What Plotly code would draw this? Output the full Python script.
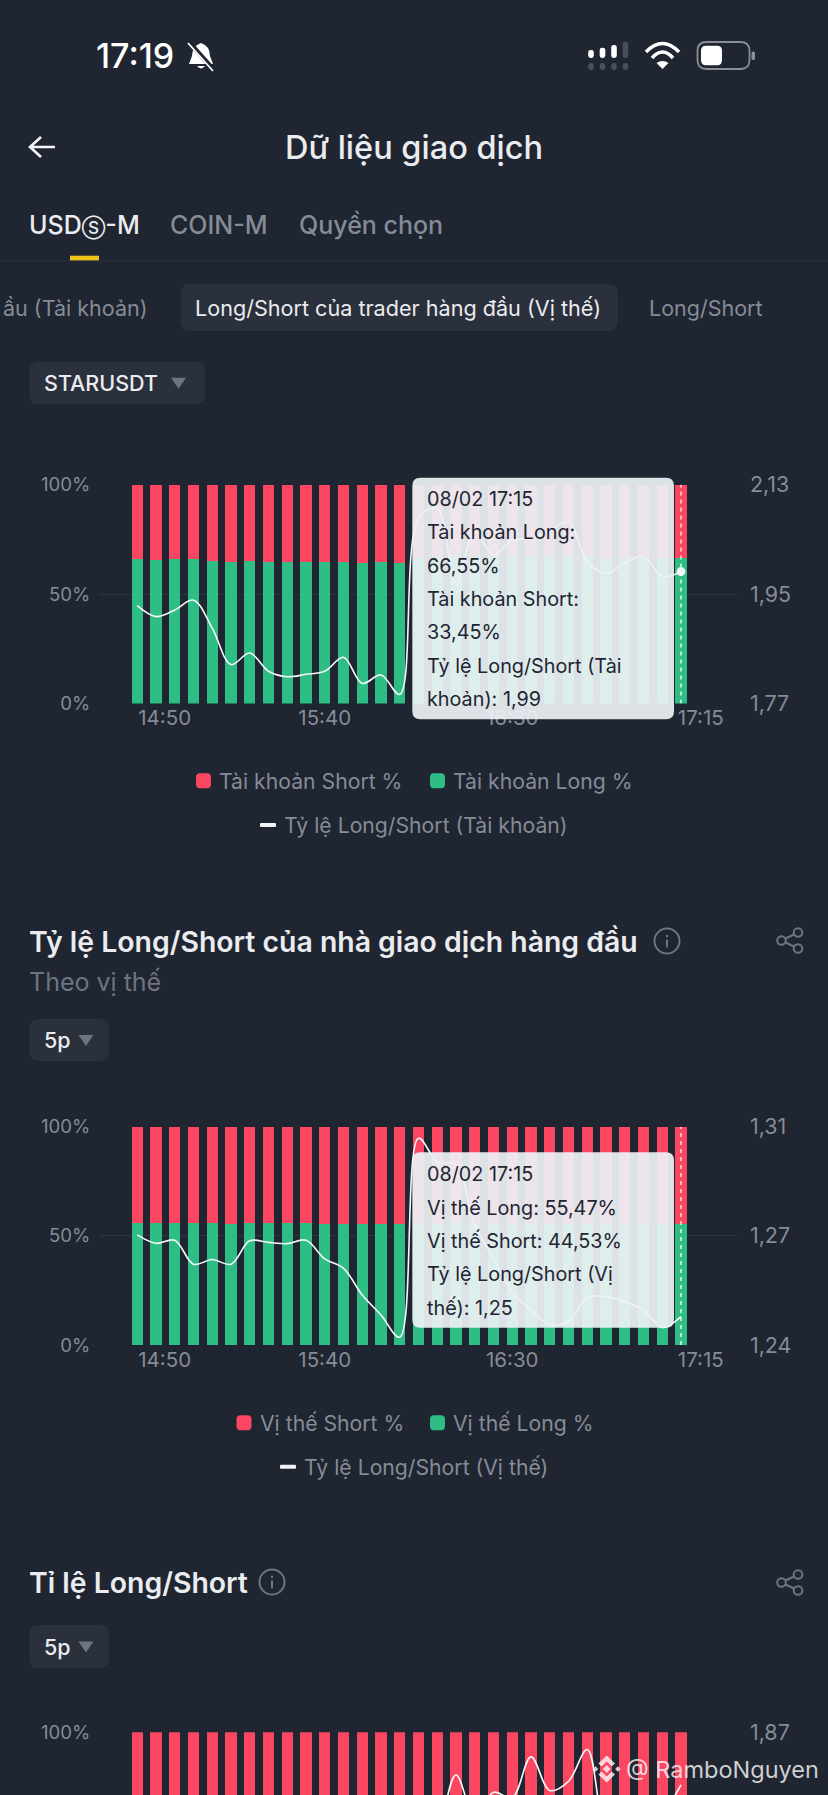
import plotly.graph_objects as go

W = 828
H = 1795

BG = "#1F2531"
CHIP = "#2A303C"
GRID = "#2E3440"
RED = "#FA4660"
GREEN = "#2EBD85"
MUTED = "#858C97"
DIM = "#6E7480"
LIGHT = "#EAECEF"
FONT = "Inter"

TIMES = ["14:50", "14:55", "15:00", "15:05", "15:10", "15:15", "15:20", "15:25", "15:30", "15:35",
         "15:40", "15:45", "15:50", "15:55", "16:00", "16:05", "16:10", "16:15", "16:20", "16:25",
         "16:30", "16:35", "16:40", "16:45", "16:50", "16:55", "17:00", "17:05", "17:10", "17:15"]

# tick labels sit off their bars at both ends of the axis
X_TICK_POS = [1.46, 10, 20, 30.06]
X_TICK_TEXT = ["14:50", "15:40", "16:30", "17:15"]
LEFT_TICKS = [0, 50, 100]
LEFT_TEXT = ["0%", "50%", "100%"]

long_acc = [65.9, 65.6, 65.9, 66.1, 65.3, 64.7, 65.1, 64.5, 64.5, 64.5,
            64.7, 64.8, 64.4, 64.5, 64.4, 66.6, 66.9, 67.2, 67.0, 67.0,
            66.9, 67.1, 66.8, 67.2, 67.0, 66.5, 66.4, 66.5, 66.7, 66.55]
ratio_acc = [1.931, 1.913, 1.924, 1.940, 1.894, 1.834, 1.853, 1.823, 1.814, 1.818,
             1.823, 1.846, 1.803, 1.817, 1.785, 2.075, 2.091, 1.965, 2.053, 2.014,
             2.039, 2.042, 2.055, 2.069, 2.003, 1.984, 2.001, 2.012, 1.979, 1.987]
right_acc = [1.77, 1.95, 2.13]
right_acc_text = ["1,77", "1,95", "2,13"]

long_pos = [56.0, 55.9, 55.9, 55.7, 55.7, 55.6, 55.7, 55.7, 55.7, 55.7,
            55.6, 55.6, 55.6, 55.3, 55.3, 55.6, 55.6, 55.7, 55.6, 55.5,
            55.4, 55.5, 55.5, 55.6, 55.6, 55.6, 55.5, 55.4, 55.4, 55.47]
ratio_pos = [1.2753, 1.2726, 1.2736, 1.2659, 1.2674, 1.2659, 1.2734, 1.2729, 1.2725, 1.2736,
             1.2676, 1.2646, 1.2560, 1.2496, 1.2425, 1.3063, 1.2988, 1.2979, 1.2785, 1.2678,
             1.2571, 1.2512, 1.2466, 1.2475, 1.2552, 1.2555, 1.2539, 1.2512, 1.2456, 1.2491]
right_pos = [1.24, 1.275, 1.31]
right_pos_text = ["1,24", "1,27", "1,31"]

# third chart runs off the page, only the top of it can be read
long_all = [60.5, 60.2, 60.4, 60.1, 60.3, 60.0, 59.8, 60.1, 60.0, 59.9,
            60.2, 60.1, 60.3, 60.2, 60.0, 61.0, 61.5, 61.8, 61.4, 61.6,
            61.7, 62.0, 61.6, 61.8, 62.1, 61.5, 61.3, 61.4, 61.5, 61.6]
ratio_all = [1.745, 1.738, 1.742, 1.735, 1.728, 1.732, 1.726, 1.722, 1.730, 1.727,
             1.733, 1.729, 1.724, 1.720, 1.716, 1.735, 1.760, 1.823, 1.778, 1.804,
             1.798, 1.843, 1.806, 1.816, 1.851, 1.762, 1.745, 1.752, 1.778, 1.812]
right_all = [1.87]
right_all_text = ["1,87"]

tip_acc = ["08/02 17:15", "Tài khoản Long:", "66,55%", "Tài khoản Short:", "33,45%",
           "Tỷ lệ Long/Short (Tài", "khoản): 1,99"]
tip_pos = ["08/02 17:15", "Vị thế Long: 55,47%", "Vị thế Short: 44,53%",
           "Tỷ lệ Long/Short (Vị", "thế): 1,25"]

x_idx = list(range(len(TIMES)))
X_RANGE = [-2.04, 32.02]


def fx(x):
    return x / W


def fy(y):
    return 1 - y / H


def path(d):
    out = []
    is_x = True
    for tok in d.split():
        if tok.isalpha():
            out.append(tok)
        else:
            out.append(f"{fx(float(tok)):.5f}" if is_x else f"{fy(float(tok)):.5f}")
            is_x = not is_x
    return " ".join(out)


def rrect_path(x0, y0, x1, y1, r):
    return path(f"M {x0 + r} {y0} L {x1 - r} {y0} Q {x1} {y0} {x1} {y0 + r} L {x1} {y1 - r} "
                f"Q {x1} {y1} {x1 - r} {y1} L {x0 + r} {y1} Q {x0} {y1} {x0} {y1 - r} "
                f"L {x0} {y0 + r} Q {x0} {y0} {x0 + r} {y0} Z")


shapes = []
annotations = []


def fill_path(d, color):
    shapes.append(dict(type="path", xref="paper", yref="paper", path=path(d),
                       fillcolor=color, line=dict(width=0)))


def stroke_path(d, color, width):
    shapes.append(dict(type="path", xref="paper", yref="paper", path=path(d),
                       line=dict(color=color, width=width)))


def rrect(x0, y0, x1, y1, r, fill, line=None, width=0):
    shapes.append(dict(type="path", xref="paper", yref="paper", path=rrect_path(x0, y0, x1, y1, r),
                       fillcolor=fill, line=dict(color=line, width=width)))


def circle(cx, cy, r, line, width, fill="rgba(0,0,0,0)"):
    shapes.append(dict(type="circle", xref="paper", yref="paper",
                       x0=fx(cx - r), x1=fx(cx + r), y0=fy(cy + r), y1=fy(cy - r),
                       fillcolor=fill, line=dict(color=line, width=width)))


def text(x, y, s, size, color, anchor="left", weight=400):
    annotations.append(dict(x=fx(x), y=fy(y), xref="paper", yref="paper", text=s, showarrow=False,
                            xanchor=anchor, yanchor="middle", borderpad=0, borderwidth=0,
                            font=dict(family=FONT, size=size, color=color, weight=weight)))


def chip(x0, x1, y0, y1, label, tx, cx):
    rrect(x0, y0, x1, y1, 9, CHIP)
    text(tx, (y0 + y1) / 2, label, 21.5, LIGHT, weight=500)
    ym = (y0 + y1) / 2
    fill_path(f"M {cx - 7.5} {ym - 5} L {cx + 7.5} {ym - 5} L {cx} {ym + 6} Z", DIM)


def info_icon(cx, cy):
    circle(cx, cy, 12.5, DIM, 2)
    circle(cx, cy - 5, 1.2, DIM, 0, DIM)
    stroke_path(f"M {cx} {cy - 1.5} L {cx} {cy + 6.5}", DIM, 2)


def share_icon(cy):
    stroke_path(f"M 794 {cy - 6} L 785.5 {cy - 2} M 794 {cy + 6} L 785.5 {cy + 2}", DIM, 2)
    circle(798, cy - 8, 4.3, DIM, 2)
    circle(781.5, cy, 4.3, DIM, 2)
    circle(798, cy + 8, 4.3, DIM, 2)


def legend(y1, y2, red_x, red_label, green_label, dash_x, line_label):
    rrect(red_x, y1 - 7.5, red_x + 15, y1 + 7.5, 4, RED)
    text(red_x + 23, y1, red_label, 21.2, MUTED)
    rrect(430, y1 - 7.5, 445, y1 + 7.5, 4, GREEN)
    text(453, y1, green_label, 21.2, MUTED)
    rrect(dash_x, y2 - 2, dash_x + 16, y2 + 2, 1, "#F0F2F5")
    text(dash_x + 24, y2, line_label, 21.2, MUTED)


def tooltip(y0, y1, lines, first_y):
    rrect(412.3, y0, 674, y1, 8, "rgba(236,241,245,0.93)")
    for i, s in enumerate(lines):
        text(427.3, first_y + i * 33.33, s, 19.8, "#1F2531")


# phone status bar
text(96, 56, "17:19", 34, "#FFFFFF", weight=500)
fill_path("M 201 43 Q 192 46 192 56 L 189 64 L 213 64 L 210 56 Q 210 46 201 43 Z", "#FFFFFF")
fill_path("M 197 66 Q 201 71 205 66 Z", "#FFFFFF")
stroke_path("M 189 42 L 214 70", BG, 4.5)
stroke_path("M 188 43 L 213 71", "#FFFFFF", 1.8)
for bar_x, bar_top, bar_color in [(591, 50, "#FFFFFF"), (602.5, 47.7, "#FFFFFF"),
                                  (614, 45, "#FFFFFF"), (625.5, 41.7, "#4A4F58")]:
    rrect(bar_x - 2.8, bar_top, bar_x + 2.8, 58, 2.4, bar_color)
    rrect(bar_x - 2.8, 63, bar_x + 2.8, 70, 2.4, "#4A4F58")
stroke_path("M 646 52 Q 662.5 35 679 52", "#FFFFFF", 3.6)
stroke_path("M 652 58 Q 662.5 46 673 58", "#FFFFFF", 3.6)
fill_path("M 656.5 63 Q 662.5 59 668.5 63 L 662.5 69 Z", "#FFFFFF")
rrect(697.5, 42, 749.5, 69, 9, "rgba(0,0,0,0)", "#8A8F96", 1.8)
rrect(701, 45.7, 722, 65.3, 5, "#FFFFFF")
rrect(751.5, 51.5, 755, 60, 1.5, "#8A8F96")

# app header and tabs
stroke_path("M 55 147 L 30 147 M 41 137 L 30 147 L 41 157", "#F5F6F7", 2.6)
text(414, 147, "Dữ liệu giao dịch", 32.5, LIGHT, anchor="center", weight=500)
text(29, 225, "USD<span style=\"font-size:17px\">Ⓢ</span>-M", 25, LIGHT, weight=500)
text(170, 225, "COIN-M", 25, MUTED, weight=500)
text(299, 225, "Quyền chọn", 25, MUTED, weight=500)
fill_path("M 70 255.7 L 99 255.7 L 99 260.7 L 70 260.7 Z", "#F0C419")
stroke_path("M 0 261 L 828 261", "#2B3039", 1)
rrect(180.6, 284, 618, 331, 10, CHIP)
text(148, 308, "ầu (Tài khoản)", 21.5, MUTED, anchor="right")
text(195, 308, "Long/Short của trader hàng đầu (Vị thế)", 21.6, LIGHT)
text(649, 308, "Long/Short", 21.5, MUTED)
chip(29.5, 205, 361.7, 404, "STARUSDT", 44, 178.5)

# section heads
text(29, 941, "Tỷ lệ Long/Short của nhà giao dịch hàng đầu", 28.4, LIGHT, weight=600)
info_icon(667, 941)
share_icon(940.5)
text(29, 982, "Theo vị thế", 25, DIM)
chip(29.5, 109, 1019, 1061, "5p", 44, 86)

text(29, 1582, "Tỉ lệ Long/Short", 28.4, LIGHT, weight=600)
info_icon(272, 1582)
share_icon(1582.5)
chip(29.5, 109, 1625, 1668, "5p", 44, 86)

legend(780.7, 825, 196, "Tài khoản Short %", "Tài khoản Long %", 260, "Tỷ lệ Long/Short (Tài khoản)")
legend(1422.7, 1466.7, 236.5, "Vị thế Short %", "Vị thế Long %", 280, "Tỷ lệ Long/Short (Vị thế)")

tooltip(477.7, 719.3, tip_acc, 499)
tooltip(1152.3, 1327.7, tip_pos, 1174.3)

# cursor line on the selected candle
for y_ref in ["y", "y3"]:
    shapes.append(dict(type="line", xref="x" if y_ref == "y" else "x2", yref=y_ref,
                       x0=x_idx[-1], x1=x_idx[-1], y0=0, y1=100,
                       line=dict(color="#FFFFFF", width=1.3, dash="4px,4px")))

# watermark
WM = "rgba(255,255,255,0.78)"
fill_path("M 606.7 1755.5 L 615 1763.5 L 611.7 1766.5 L 606.7 1761.5 L 601.7 1766.5 L 598.4 1763.5 Z", WM)
fill_path("M 606.7 1782.5 L 615 1774.5 L 611.7 1771.5 L 606.7 1776.5 L 601.7 1771.5 L 598.4 1774.5 Z", WM)
fill_path("M 606.7 1765 L 610.7 1769 L 606.7 1773 L 602.7 1769 Z", WM)
fill_path("M 595.5 1766.2 L 598.3 1769 L 595.5 1771.8 L 592.7 1769 Z", WM)
fill_path("M 617.9 1766.2 L 620.7 1769 L 617.9 1771.8 L 615.1 1769 Z", WM)
text(626, 1769, "@ RamboNguyen", 23.5, WM)

fig = go.Figure()


def add_chart(long_vals, ratio_vals, short_name, long_name, line_name, xa, ya, ya2):
    short_vals = [round(100 - v, 2) for v in long_vals]
    fig.add_trace(go.Bar(x=x_idx, y=long_vals, name=long_name, marker=dict(color=GREEN, line=dict(width=0)),
                         hovertext=TIMES, xaxis=xa, yaxis=ya))
    fig.add_trace(go.Bar(x=x_idx, y=short_vals, name=short_name, marker=dict(color=RED, line=dict(width=0)),
                         hovertext=TIMES, xaxis=xa, yaxis=ya))
    fig.add_trace(go.Scatter(x=x_idx, y=ratio_vals, name=line_name, mode="lines",
                             line=dict(color="#F7F8F9", width=1.6, shape="spline", smoothing=1.0),
                             hovertext=TIMES, xaxis=xa, yaxis=ya2))


add_chart(long_acc, ratio_acc, "Tài khoản Short %", "Tài khoản Long %", "Tỷ lệ Long/Short (Tài khoản)", "x", "y", "y2")
fig.add_trace(go.Scatter(x=x_idx[-1:], y=ratio_acc[-1:], mode="markers", showlegend=False,
                         marker=dict(color="#F2F4F6", size=9), xaxis="x", yaxis="y2"))
add_chart(long_pos, ratio_pos, "Vị thế Short %", "Vị thế Long %", "Tỷ lệ Long/Short (Vị thế)", "x2", "y3", "y4")
add_chart(long_all, ratio_all, "Short %", "Long %", "Tỉ lệ Long/Short", "x3", "y5", "y6")

x_domain = [fx(99), fx(737.6)]


def x_axis(anchor, labels=True):
    return dict(domain=x_domain, range=X_RANGE, anchor=anchor, tickmode="array", tickvals=X_TICK_POS,
                ticktext=X_TICK_TEXT, showgrid=False, zeroline=False, showline=False, automargin=False,
                showticklabels=labels, ticks="", ticklabelstandoff=0,
                tickfont=dict(family=FONT, size=20.5, color=MUTED))


def left_axis(anchor, top, bottom, rng):
    return dict(domain=[fy(bottom), fy(top)], range=rng, anchor=anchor, tickmode="array", tickvals=LEFT_TICKS,
                ticktext=LEFT_TEXT, showgrid=True, gridcolor=GRID, gridwidth=1, zeroline=False, showline=False,
                automargin=False, ticks="outside", ticklen=4, tickcolor="rgba(0,0,0,0)",
                tickfont=dict(family=FONT, size=18.6, color=MUTED))


def right_axis(anchor, over, rng, vals, labels):
    return dict(overlaying=over, anchor=anchor, side="right", range=rng, tickmode="array", tickvals=vals,
                ticktext=labels, showgrid=False, zeroline=False, showline=False, automargin=False,
                ticks="outside", ticklen=7, tickcolor="rgba(0,0,0,0)",
                tickfont=dict(family=FONT, size=21.5, color=MUTED))


fig.update_layout(
    width=W,
    height=H,
    margin=dict(l=0, r=0, t=0, b=0),
    paper_bgcolor=BG,
    plot_bgcolor=BG,
    barmode="stack",
    bargap=0.41,
    showlegend=False,
    hovermode=False,
    font=dict(family=FONT),
    shapes=shapes,
    annotations=annotations,
    xaxis=x_axis("y"),
    yaxis=left_axis("x", 484.7, 703.5, [0, 100]),
    yaxis2=right_axis("x", "y", [1.77, 2.13], right_acc, right_acc_text),
    xaxis2=x_axis("y3"),
    yaxis3=left_axis("x2", 1126.7, 1345, [0, 100]),
    yaxis4=right_axis("x2", "y3", [1.24, 1.31], right_pos, right_pos_text),
    xaxis3=x_axis("y5", labels=False),
    yaxis5=left_axis("x3", 1732.3, 1795, [71.3, 100]),
    yaxis6=right_axis("x3", "y5", [1.801, 1.87], right_all, right_all_text),
)

fig.write_html("out.html", config=dict(displayModeBar=False),
               post_script="document.body.style.margin='0';document.body.style.background='" + BG + "';")
